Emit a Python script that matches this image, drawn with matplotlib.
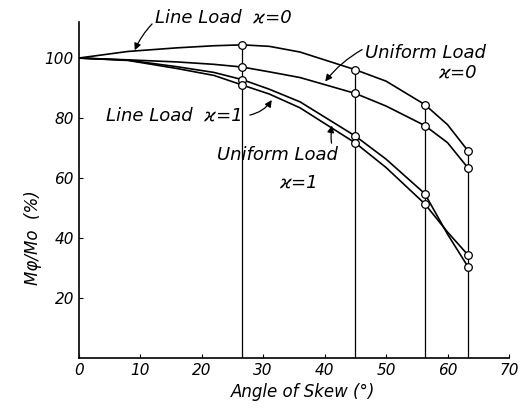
import numpy as np
import matplotlib.pyplot as plt

angle = [0, 8, 16, 22, 26.6, 31, 36, 45, 50, 56.3, 60, 63.4]

# M_phi / M_0 (%) along each curve
line_k0 = [100, 102.2, 103.4, 104.1, 104.4, 103.9, 102.0, 96.1, 92.3, 84.5, 77.8, 68.9]
unif_k0 = [100, 99.4, 98.7, 97.9, 97.0, 95.4, 93.5, 88.2, 84.0, 77.5, 71.8, 63.2]
line_k1 = [100, 99.3, 97.1, 95.2, 92.8, 89.6, 85.4, 74.0, 66.3, 54.8, 41.3, 30.2]
unif_k1 = [100, 99.2, 96.5, 94.2, 91.0, 88.0, 83.4, 71.7, 63.5, 51.4, 42.0, 34.2]

# computed skews (tan = 0.5, 1, 1.5, 2)
skew_pts = [26.6, 45, 56.3, 63.4]

xticks = [0, 10, 20, 30, 40, 50, 60, 70]
yticks = [20, 40, 60, 80, 100]

plt.rcParams['font.family'] = ['DejaVu Sans']
plt.rcParams['font.style'] = 'italic'

fig = plt.figure(figsize=(5.22, 4.12), dpi=100)
ax = fig.add_axes([0.151, 0.131, 0.824, 0.8155])

a = np.array(angle)
for y in [line_k0, unif_k0, line_k1, unif_k1]:
    y = np.array(y)
    ax.plot(a, y, color='black', lw=1.2, zorder=3)
    sel = np.isin(a, skew_pts)
    ax.plot(a[sel], y[sel], 'o', ms=5.5, mfc='white', mec='black',
            mew=0.9, zorder=4)

# vertical lines up to the top curve
top = np.array(line_k0)[np.isin(a, skew_pts)]
ax.vlines(skew_pts, 0, top, color='black', lw=0.9, zorder=2)

ax.set_xlim(0, 70)
ax.set_ylim(0, 112)
ax.set_xticks(xticks)
ax.set_yticks(yticks)
ax.tick_params(direction='in', length=3, width=0.8, labelsize=11)
ax.spines['top'].set_visible(False)
ax.spines['right'].set_visible(False)
for s in ['left', 'bottom']:
    ax.spines[s].set_linewidth(1.2)

ax.text(36.5, -0.075, 'Angle of Skew (°)', transform=ax.get_xaxis_transform(),
        ha='center', va='top', fontsize=12)
ax.text(-7.4, 40, 'Mφ/Mo  (%)', rotation=90, ha='center', va='center',
        fontsize=12)

arrow = dict(arrowstyle='-|>', color='black', lw=0.9, mutation_scale=10,
             shrinkA=0, shrinkB=0)

ax.annotate('Line Load  ϰ=0', xy=(9.1, 102.6), xytext=(23.5, 113.5),
            fontsize=13, ha='center', va='center',
            arrowprops=dict(arrow, relpos=(0, 0.3), connectionstyle='arc3,rad=0.1'))
ax.annotate('Uniform Load', xy=(40.1, 92.2), xytext=(56.4, 101.7),
            fontsize=13, ha='center', va='center',
            arrowprops=dict(arrow, relpos=(-0.02, 0.7), connectionstyle='arc3,rad=0.1'))
ax.text(61.6, 95.3, 'ϰ=0', fontsize=13, ha='center', va='center')
ax.annotate('Line Load  ϰ=1', xy=(31.4, 86.0), xytext=(15.6, 81.0),
            fontsize=13, ha='center', va='center',
            arrowprops=dict(arrow, relpos=(1.05, 0.5), connectionstyle='arc3,rad=0.2'))
ax.annotate('Uniform Load', xy=(41.2, 77.5), xytext=(32.4, 67.7),
            fontsize=13, ha='center', va='center',
            arrowprops=dict(arrow, relpos=(0.95, 0.9), connectionstyle='arc3,rad=-0.1'))
ax.text(35.7, 58.7, 'ϰ=1', fontsize=13, ha='center', va='center')

fig.savefig('out.png', dpi=100)
